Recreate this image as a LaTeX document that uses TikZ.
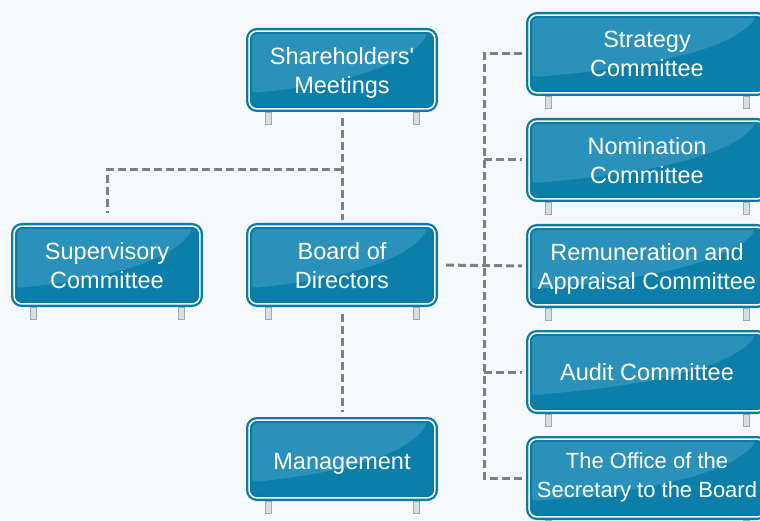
\documentclass[tikz,border=0pt]{standalone}
\usepackage{fontspec}
\setmainfont{Liberation Sans}
\usetikzlibrary{positioning,calc}

\definecolor{signblue}{HTML}{0B7FA9}
\definecolor{signgloss}{HTML}{2A92BA}
\definecolor{signedge}{HTML}{0A7BA5}
\definecolor{linkgray}{HTML}{808080}
\definecolor{paper}{HTML}{F6F9FC}
\definecolor{postgray}{HTML}{DCDDDE}

\begin{document}
\begin{tikzpicture}[x=1pt,y=-1pt,node distance=22pt,
sign/.style={rounded corners=8pt,draw=signedge,line width=2.3pt,double=white,double distance=1.5pt,
  fill=signblue,text=white,align=center,outer sep=3.05pt,inner sep=0pt,text depth=0pt,
  minimum width=185.9pt,minimum height=77.9pt,font=\fontsize{23.5}{29}\selectfont,
  path picture={\fill[signgloss] let \p1=(path picture bounding box.north west),\p2=(path picture bounding box.south east) in
    (\x1,\y1) -- (\x1,{\y1+0.8*(\y2-\y1)}) .. controls ({\x1+0.5*(\x2-\x1)},{\y1+0.68*(\y2-\y1)}) and ({\x1+0.85*(\x2-\x1)},{\y1+0.45*(\y2-\y1)}) .. ({\x1+0.97*(\x2-\x1)},\y1) -- cycle;}},
wide/.style={sign,minimum width=235.9pt},
link/.style={draw=linkgray,line width=3pt,dash pattern=on 8pt off 4pt},
post/.style={fill=postgray,draw=postgray!75!black,line width=0.4pt}]

\useasboundingbox (0,0) rectangle (760,521);
\clip (0,0) rectangle (760,521);
\fill[paper] (0,0) rectangle (760,521);

% main line
\node[sign] (board) at (342,265) {Board of\\Directors};
\node[sign, above=111pt of board] (share) {Shareholders\textquotesingle\\Meetings};
\node[sign, left=43pt of board] (sup) {Supervisory\\Committee};
\node[sign, below=110pt of board, text height=21pt] (mgmt) {Management};

% committees
\node[wide] (strat) at (647,54) {Strategy\\Committee};
\node[wide, below=of strat] (nom) {Nomination\\Committee};
\node[wide, below=of nom] (rem) {Remuneration and\\Appraisal Committee};
\node[wide, below=of rem] (audit) {Audit Committee};
\node[wide, below=of audit, text depth=6pt, font=\fontsize{22}{29}\selectfont] (office) {The Office of the\\Secretary to the Board};

% posts
\foreach \n in {share,sup,board,mgmt,strat,nom,rem,audit,office}{
  \draw[post] ($(\n.south west)+(19,0)$) rectangle +(6,12);
  \draw[post] ($(\n.south east)+(-25,0)$) rectangle +(6,12);
}

\coordinate (split) at (share.south |- 0,170);
\coordinate (bus) at (484,0);

\draw[link, shorten <=6pt, shorten >=3pt] (share.south) -- (board.north);
\draw[link, shorten >=10pt] (split) -| (sup.north);
\draw[link, shorten <=7pt, shorten >=5pt] (board.south) -- (mgmt.north);
\draw[link, shorten <=8pt, shorten >=4pt] (board.east) -- (rem.west);
\draw[link, shorten <=4pt, shorten >=4pt] (strat.west) -- (strat.west -| bus) -- (office.west -| bus) -- (office.west);
\foreach \n in {nom,audit}
  \draw[link, shorten >=4pt] (\n.west -| bus) -- (\n.west);
\end{tikzpicture}
\end{document}
